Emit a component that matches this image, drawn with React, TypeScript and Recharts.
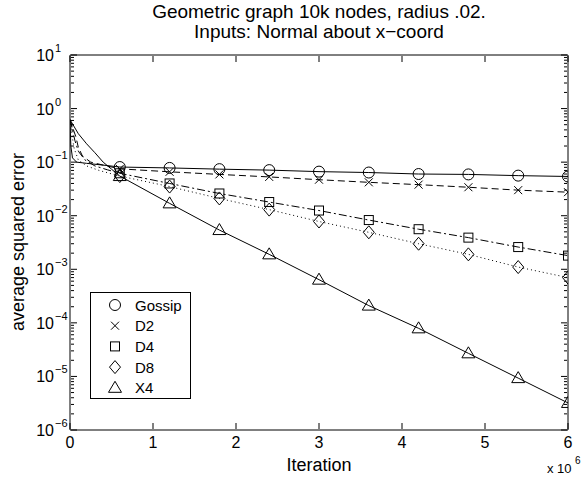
import React from 'react';
import { LineChart, Line, XAxis, YAxis } from 'recharts';

// iteration (x 10^6) where markers are drawn
const markIter = [0.6, 1.2, 1.8, 2.4, 3.0, 3.6, 4.2, 4.8, 5.4, 6.0];

// error at the marker iterations
const gossipMarks = [0.081, 0.078, 0.074, 0.071, 0.0665, 0.064, 0.06, 0.059, 0.056, 0.054];
const d2Marks = [0.075, 0.066, 0.059, 0.053, 0.047, 0.042, 0.038, 0.034, 0.03, 0.0275];
const d4Marks = [0.062, 0.04, 0.026, 0.018, 0.0125, 0.0083, 0.0056, 0.0039, 0.0026, 0.0018];
const d8Marks = [0.055, 0.035, 0.021, 0.013, 0.0078, 0.0049, 0.003, 0.0019, 0.0011, 0.0007];
const x4Marks = [0.055, 0.017, 0.0054, 0.0019, 0.00064, 0.00021, 7.9e-5, 2.7e-5, 9.3e-6, 3.2e-6];

// the fast initial drop before the first marker
const gossipStartIter = [0, 0.01, 0.03, 0.08, 0.2, 0.4];
const gossipStart = [0.62, 0.2, 0.12, 0.1, 0.095, 0.088];
const d2StartIter = [0, 0.03, 0.07, 0.1, 0.15, 0.25, 0.4];
const d2Start = [0.62, 0.45, 0.3, 0.19, 0.13, 0.1, 0.088];
const d4StartIter = [0, 0.03, 0.06, 0.1, 0.18, 0.3, 0.45];
const d4Start = [0.62, 0.4, 0.25, 0.16, 0.11, 0.085, 0.072];
const d8StartIter = [0, 0.02, 0.05, 0.1, 0.2, 0.35];
const d8Start = [0.62, 0.35, 0.18, 0.11, 0.085, 0.07];
const x4StartIter = [0, 0.1, 0.2, 0.3, 0.4, 0.5];
const x4Start = [0.62, 0.34, 0.22, 0.15, 0.1, 0.074];

const xTicks = [0, 1, 2, 3, 4, 5, 6];
const decades = [-6, -5, -4, -3, -2, -1, 0];

const yTicks: number[] = [];
decades.forEach((d) => {
  for (let m = 1; m <= 9; m++) yTicks.push(m * Math.pow(10, d));
});
yTicks.push(10);

type Shape = 'circle' | 'x' | 'square' | 'diamond' | 'triangle';

const build = (sx: number[], sv: number[], mv: number[]) => [
  ...sx.map((x, i) => ({ x, v: sv[i], mark: false })),
  ...markIter.map((x, i) => ({ x, v: mv[i], mark: true })),
];

const SERIES: { name: string; shape: Shape; dash?: string; data: any[] }[] = [
  { name: 'Gossip', shape: 'circle', data: build(gossipStartIter, gossipStart, gossipMarks) },
  { name: 'D2', shape: 'x', dash: '7 4', data: build(d2StartIter, d2Start, d2Marks) },
  { name: 'D4', shape: 'square', dash: '8 3 2 3', data: build(d4StartIter, d4Start, d4Marks) },
  { name: 'D8', shape: 'diamond', dash: '1 3', data: build(d8StartIter, d8Start, d8Marks) },
  { name: 'X4', shape: 'triangle', data: build(x4StartIter, x4Start, x4Marks) },
];

const FONT = '"Liberation Sans", Arial, Helvetica, sans-serif';

function Marker({ shape, cx, cy }: { shape: Shape; cx: number; cy: number }) {
  const s = { fill: 'none', stroke: '#000', strokeWidth: 1 };
  switch (shape) {
    case 'circle':
      return <circle cx={cx} cy={cy} r={5.5} {...s} />;
    case 'x':
      return (
        <path d={`M${cx - 4},${cy - 4}L${cx + 4},${cy + 4}M${cx - 4},${cy + 4}L${cx + 4},${cy - 4}`} {...s} />
      );
    case 'square':
      return <rect x={cx - 4.5} y={cy - 4.5} width={9} height={9} {...s} />;
    case 'diamond':
      return <path d={`M${cx},${cy - 6.5}L${cx + 5.5},${cy}L${cx},${cy + 6.5}L${cx - 5.5},${cy}Z`} {...s} />;
    default:
      return <path d={`M${cx},${cy - 6.5}L${cx + 6.5},${cy + 4.5}L${cx - 6.5},${cy + 4.5}Z`} {...s} />;
  }
}

const isMajor = (v: number) => Math.abs(Math.log10(v) - Math.round(Math.log10(v))) < 1e-6;

const LeftTick = (props: any) => {
  const { x, y, payload } = props;
  const v = payload.value;
  const major = isMajor(v);
  const e = Math.round(Math.log10(v));
  const ax = x + 1;
  return (
    <g>
      <line x1={ax} x2={ax + (major ? 6 : 3)} y1={y} y2={y} stroke="#000" />
      {major && (
        <>
          <text x={ax - 17} y={y + 6} textAnchor="end" fontSize={16} fontFamily={FONT} fill="#000">
            10
          </text>
          <text x={ax - 16} y={y - 3} textAnchor="start" fontSize={11} fontFamily={FONT} fill="#000">
            {e < 0 ? `\u2212${-e}` : e}
          </text>
        </>
      )}
    </g>
  );
};

const RightTick = (props: any) => {
  const { x, y, payload } = props;
  const major = isMajor(payload.value);
  const ax = x - 1;
  return <line x1={ax} x2={ax - (major ? 6 : 3)} y1={y} y2={y} stroke="#000" />;
};

const BottomTick = (props: any) => {
  const { x, y, payload } = props;
  const ay = y - 1;
  return (
    <g>
      <line x1={x} x2={x} y1={ay} y2={ay - 6} stroke="#000" />
      <text x={x} y={ay + 19} textAnchor="middle" fontSize={16} fontFamily={FONT} fill="#000">
        {payload.value}
      </text>
    </g>
  );
};

const TopTick = (props: any) => {
  const { x, y } = props;
  const ay = y + 1;
  return <line x1={x} x2={x} y1={ay} y2={ay + 6} stroke="#000" />;
};

export default function App() {
  return (
    <div style={{ position: 'absolute', left: 0, top: 0, width: 584, height: 478, background: '#fff' }}>
      <LineChart
        width={584}
        height={478}
        margin={{ top: 54, right: 15, bottom: 47, left: 69 }}
      >
        <XAxis
          xAxisId="b"
          type="number"
          dataKey="x"
          domain={[0, 6]}
          ticks={xTicks}
          allowDataOverflow
          height={1}
          tickSize={0}
          tickMargin={0}
          tickLine={false}
          tick={<BottomTick />}
          axisLine={{ stroke: '#000' }}
        />
        <XAxis
          xAxisId="t"
          orientation="top"
          type="number"
          dataKey="x"
          domain={[0, 6]}
          ticks={xTicks}
          allowDataOverflow
          height={1}
          tickSize={0}
          tickMargin={0}
          tickLine={false}
          tick={<TopTick />}
          axisLine={{ stroke: '#000' }}
        />
        <YAxis
          yAxisId="l"
          scale="log"
          type="number"
          domain={[1e-6, 10]}
          ticks={yTicks}
          allowDataOverflow
          width={1}
          tickSize={0}
          tickMargin={0}
          tickLine={false}
          interval={0}
          tick={<LeftTick />}
          axisLine={{ stroke: '#000' }}
        />
        <YAxis
          yAxisId="r"
          orientation="right"
          scale="log"
          type="number"
          domain={[1e-6, 10]}
          ticks={yTicks}
          allowDataOverflow
          width={1}
          tickSize={0}
          tickMargin={0}
          tickLine={false}
          interval={0}
          tick={<RightTick />}
          axisLine={{ stroke: '#000' }}
        />
        {SERIES.map((s) => (
          <Line
            key={s.name}
            xAxisId="b"
            yAxisId="l"
            data={s.data}
            dataKey="v"
            type="linear"
            stroke="#000"
            strokeWidth={1}
            strokeDasharray={s.dash}
            isAnimationActive={false}
            activeDot={false}
            dot={(p: any) =>
              p.payload.mark ? (
                <Marker key={p.index} shape={s.shape} cx={p.cx} cy={p.cy} />
              ) : (
                <g key={p.index} />
              )
            }
          />
        ))}
      </LineChart>

      <svg
        width={584}
        height={478}
        style={{ position: 'absolute', left: 0, top: 0, pointerEvents: 'none' }}
        fontFamily={FONT}
      >
        <text x={319} y={18} textAnchor="middle" fontSize={19} fill="#000">
          Geometric graph 10k nodes, radius .02.
        </text>
        <text x={319} y={38} textAnchor="middle" fontSize={19} fill="#000">
          Inputs: Normal about x{'\u2212'}coord
        </text>
        <text x={319} y={471} textAnchor="middle" fontSize={18} fill="#000">
          Iteration
        </text>
        <text
          x={24}
          y={242}
          textAnchor="middle"
          fontSize={18}
          fill="#000"
          transform="rotate(-90 24 242)"
        >
          average squared error
        </text>
        <text x={547} y={473} fontSize={13} fill="#000">
          x 10
        </text>
        <text x={575} y={464} fontSize={10} fill="#000">
          6
        </text>

        <rect x={90.5} y={292.5} width={100} height={106} fill="#fff" stroke="#000" />
        {SERIES.map((s, i) => (
          <g key={s.name}>
            <Marker shape={s.shape} cx={115} cy={305 + i * 20.7} />
            <text x={135} y={305 + i * 20.7 + 5.5} fontSize={15} fill="#000">
              {s.name}
            </text>
          </g>
        ))}
      </svg>
    </div>
  );
}
